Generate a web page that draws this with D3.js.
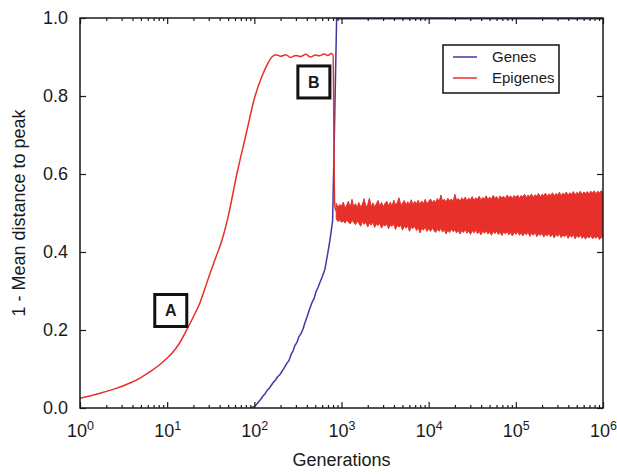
<!DOCTYPE html>
<html>
<head>
<meta charset="utf-8">
<script src="https://cdn.jsdelivr.net/npm/d3@7"></script>
<style>
  body { margin: 0; background: #fff; }
  svg text { font-family: "Liberation Sans", Arial, sans-serif; fill: #1a1a1a; }
</style>
</head>
<body>
<div id="chart"></div>
<script>
// Genes: slow climb after ~100 generations, then fixes at the peak
const genesGens = [90, 100, 106, 112, 118, 125, 132, 140, 150, 163, 175, 185, 197, 210, 222, 237, 250, 265, 278, 292, 308, 325, 342, 361, 380, 400, 428, 458, 485, 510, 538, 565, 605, 645, 690, 736, 791, 835, 879, 1000000];
const genesVals = [0.0, 0.004, 0.009, 0.016, 0.022, 0.030, 0.036, 0.045, 0.052, 0.064, 0.072, 0.080, 0.086, 0.096, 0.104, 0.115, 0.122, 0.138, 0.146, 0.160, 0.168, 0.183, 0.190, 0.202, 0.218, 0.232, 0.252, 0.270, 0.281, 0.298, 0.309, 0.322, 0.338, 0.356, 0.392, 0.430, 0.480, 0.740, 0.998, 0.998];

// Epigenes: fast rise, plateau, crash once the genes take over
const epiGens = [1, 1.7, 2.5, 3.75, 5, 6.35, 8, 10, 12, 14, 16.9, 20, 23.8, 27, 31, 36, 42.5, 50, 63, 80, 102, 122, 140, 159, 175, 200, 230, 260, 300, 340, 390, 440, 500, 560, 630, 700, 760, 800, 835, 870];
const epiVals = [0.025, 0.038, 0.049, 0.064, 0.078, 0.093, 0.109, 0.128, 0.147, 0.168, 0.202, 0.234, 0.270, 0.305, 0.345, 0.385, 0.430, 0.490, 0.600, 0.700, 0.800, 0.850, 0.880, 0.900, 0.906, 0.902, 0.906, 0.899, 0.904, 0.901, 0.907, 0.900, 0.905, 0.903, 0.908, 0.904, 0.909, 0.905, 0.520, 0.505];

// Epigenes after the crash: noisy band around 0.5 (generation, low, high)
const epiBand = [
  [870,.485,.525],[910,.478,.515],[955,.482,.522],[1000,.476,.518],[1050,.480,.528],[1100,.474,.512],[1150,.483,.521],[1200,.477,.530],
  [1260,.472,.514],[1320,.481,.535],[1380,.476,.516],[1450,.470,.524],[1510,.479,.513],[1580,.474,.527],[1660,.466,.515],[1740,.478,.523],
  [1820,.471,.537],[1910,.476,.514],[2000,.464,.522],[2090,.474,.538],[2190,.469,.516],[2290,.477,.526],[2400,.463,.515],[2510,.472,.524],
  [2630,.468,.532],[2750,.474,.517],[2880,.461,.527],[3020,.470,.516],[3160,.467,.525],[3310,.472,.530],[3470,.460,.518],[3630,.469,.528],
  [3800,.466,.517],[3980,.471,.533],[4170,.458,.520],[4370,.468,.527],[4570,.464,.539],[4790,.469,.521],[5010,.456,.525],[5250,.466,.532],
  [5500,.461,.520],[5750,.467,.529],[6030,.453,.522],[6310,.464,.534],[6610,.460,.521],[6920,.466,.530],[7240,.455,.524],[7590,.463,.533],
  [7940,.449,.522],[8320,.461,.531],[8710,.456,.524],[9120,.464,.535],[9550,.453,.523],
  [10000,.460,.530],[10500,.453,.536],[11000,.462,.526],[11500,.455,.533],[12000,.450,.527],[12600,.459,.537],[13200,.453,.529],[13800,.461,.546],
  [14500,.451,.530],[15100,.458,.535],[15800,.446,.528],[16600,.456,.538],[17400,.450,.531],[18200,.459,.536],[19100,.452,.529],[20000,.457,.548],
  [20900,.449,.532],[21900,.456,.537],[22900,.446,.530],[24000,.455,.539],[25100,.450,.533],[26300,.458,.541],[27500,.448,.531],[28800,.454,.538],
  [30200,.445,.534],[31600,.455,.542],[33100,.449,.532],[34700,.456,.539],[36300,.447,.535],[38000,.453,.543],[39800,.444,.533],[41700,.454,.540],
  [43700,.448,.536],[45700,.455,.544],[47900,.446,.534],[50100,.452,.541],[52500,.443,.535],[55000,.453,.545],[57500,.447,.537],[60300,.454,.542],
  [63100,.445,.534],[66100,.451,.544],[69200,.442,.538],[72400,.452,.543],[75900,.446,.536],[79400,.453,.546],[83200,.444,.539],[87100,.450,.544],
  [91200,.441,.537],[95500,.451,.545],
  [100000,.445,.540],[105000,.452,.546],[110000,.443,.538],[115000,.450,.545],[120000,.441,.541],[126000,.449,.548],[132000,.444,.539],[138000,.451,.546],
  [145000,.440,.542],[151000,.448,.549],[158000,.443,.540],[166000,.450,.547],[174000,.439,.543],[182000,.447,.550],[191000,.442,.541],[200000,.449,.548],
  [209000,.438,.544],[219000,.446,.551],[229000,.441,.542],[240000,.448,.549],[251000,.439,.545],[263000,.446,.552],[275000,.436,.543],[288000,.445,.550],
  [302000,.440,.546],[316000,.447,.553],[331000,.437,.544],[347000,.444,.551],[363000,.439,.547],[380000,.446,.554],[398000,.435,.545],[417000,.443,.552],
  [437000,.438,.548],[457000,.445,.555],[479000,.434,.546],[501000,.442,.553],[525000,.437,.549],[550000,.444,.556],[575000,.435,.547],[603000,.441,.554],
  [631000,.433,.550],[661000,.440,.555],[692000,.436,.548],[724000,.442,.556],[759000,.434,.551],[794000,.439,.557],[832000,.435,.549],[871000,.441,.556],
  [912000,.432,.552],[955000,.438,.557],[1000000,.436,.553]
];

const yTicks = [0, 0.2, 0.4, 0.6, 0.8, 1.0];
const xMajor = [1, 10, 100, 1000, 10000, 100000, 1000000];
const legendItems = [{name: 'Genes', color: '#3b3ba3'}, {name: 'Epigenes', color: '#e8302b'}];
const notes = [{label: 'A', gen: 11, val: 0.25}, {label: 'B', gen: 482, val: 0.836}];

const width = 617, height = 474;
const margin = {top: 18, right: 14, bottom: 66, left: 80};

const x = d3.scaleLog().domain([1, 1e6]).range([margin.left, width - margin.right]);
const y = d3.scaleLinear().domain([0, 1]).range([height - margin.bottom, margin.top]);

const svg = d3.select('#chart').append('svg')
    .attr('width', width)
    .attr('height', height);

svg.append('defs').append('clipPath').attr('id', 'plot-clip')
    .append('rect')
    .attr('x', margin.left).attr('y', margin.top)
    .attr('width', width - margin.left - margin.right)
    .attr('height', height - margin.top - margin.bottom);

const line = d3.line().x(d => x(d[0])).y(d => y(d[1]));
const smoothLine = d3.line().x(d => x(d[0])).y(d => y(d[1])).curve(d3.curveMonotoneX);
const band = d3.area().x(d => x(d[0])).y0(d => y(d[1])).y1(d => y(d[2]));

const genes = genesGens.map((g, i) => [g, genesVals[i]]);
const epigenes = epiGens.map((g, i) => [g, epiVals[i]]);

const lines = svg.append('g').attr('clip-path', 'url(#plot-clip)');
lines.append('path')
    .datum(genes)
    .attr('d', line)
    .attr('fill', 'none')
    .attr('stroke', legendItems[0].color)
    .attr('stroke-width', 1.5);
lines.append('path')
    .datum(epigenes)
    .attr('d', smoothLine)
    .attr('fill', 'none')
    .attr('stroke', legendItems[1].color)
    .attr('stroke-width', 1.5)
    .attr('stroke-linejoin', 'round');
lines.append('path')
    .datum(epiBand)
    .attr('d', band)
    .attr('fill', legendItems[1].color)
    .attr('stroke', legendItems[1].color)
    .attr('stroke-width', 1)
    .attr('stroke-linejoin', 'round');

// minor ticks on log axis (2..9 of each decade)
const xMinor = x.ticks().filter(t => !xMajor.includes(t));
const yBottom = y(0), yTop = y(1);

function styleAxis(g) {
    g.select('.domain').remove();
    g.selectAll('.tick line').attr('stroke', '#1a1a1a').attr('stroke-width', 1.2);
    g.selectAll('text').attr('font-size', 18);
}

// bottom, with power-of-ten labels
svg.append('g')
    .attr('transform', `translate(0,${yBottom})`)
    .call(d3.axisBottom(x).tickValues(xMinor).tickSize(-3).tickFormat(''))
    .call(styleAxis);
const xAxisG = svg.append('g')
    .attr('transform', `translate(0,${yBottom})`)
    .call(d3.axisBottom(x).tickValues(xMajor).tickSize(-6).tickPadding(16).tickFormat(''))
    .call(styleAxis);
xAxisG.selectAll('.tick text').each(function(d) {
    const t = d3.select(this);
    t.text('10');
    t.append('tspan')
        .attr('dy', -7)
        .attr('font-size', 12.5)
        .text(Math.round(Math.log10(d)));
});

// top, ticks only
svg.append('g')
    .attr('transform', `translate(0,${yTop})`)
    .call(d3.axisTop(x).tickValues(xMinor).tickSize(-3).tickFormat(''))
    .call(styleAxis);
svg.append('g')
    .attr('transform', `translate(0,${yTop})`)
    .call(d3.axisTop(x).tickValues(xMajor).tickSize(-6).tickFormat(''))
    .call(styleAxis);

// left and right
svg.append('g')
    .attr('transform', `translate(${margin.left},0)`)
    .call(d3.axisLeft(y).tickValues(yTicks).tickSize(-6).tickPadding(12).tickFormat(d3.format('.1f')))
    .call(styleAxis);
svg.append('g')
    .attr('transform', `translate(${width - margin.right},0)`)
    .call(d3.axisRight(y).tickValues(yTicks).tickSize(-6).tickFormat(''))
    .call(styleAxis);

// frame
svg.append('rect')
    .attr('x', margin.left).attr('y', margin.top)
    .attr('width', width - margin.left - margin.right)
    .attr('height', height - margin.top - margin.bottom)
    .attr('fill', 'none')
    .attr('stroke', '#1a1a1a')
    .attr('stroke-width', 1.5);

// axis titles
svg.append('text')
    .attr('x', (margin.left + width - margin.right) / 2)
    .attr('y', 466)
    .attr('text-anchor', 'middle')
    .attr('font-size', 18)
    .text('Generations');
svg.append('text')
    .attr('transform', `translate(25,${(yTop + yBottom) / 2}) rotate(-90)`)
    .attr('text-anchor', 'middle')
    .attr('font-size', 18)
    .text('1 - Mean distance to peak');

// annotation boxes A and B
const noteG = svg.selectAll('.note')
    .data(notes)
    .enter()
    .append('g')
    .attr('class', 'note')
    .attr('transform', d => `translate(${x(d.gen)},${y(d.val)})`);
noteG.append('rect')
    .attr('x', -16).attr('y', -16)
    .attr('width', 32).attr('height', 32)
    .attr('fill', '#fff')
    .attr('stroke', '#111')
    .attr('stroke-width', 3);
noteG.append('text')
    .attr('text-anchor', 'middle')
    .attr('dy', '0.36em')
    .attr('font-size', 16)
    .attr('font-weight', 'bold')
    .text(d => d.label);

// legend
const legend = svg.append('g').attr('transform', 'translate(443,45)');
legend.append('rect')
    .attr('width', 116).attr('height', 48)
    .attr('fill', '#fff')
    .attr('stroke', '#111')
    .attr('stroke-width', 1.5);
legendItems.forEach((d, i) => {
    const row = legend.append('g').attr('transform', `translate(0,${12 + i * 21})`);
    row.append('line')
        .attr('x1', 10).attr('x2', 34)
        .attr('stroke', d.color)
        .attr('stroke-width', 1.5);
    row.append('text')
        .attr('x', 49)
        .attr('dy', '0.35em')
        .attr('font-size', 15)
        .text(d.name);
});
</script>
</body>
</html>
